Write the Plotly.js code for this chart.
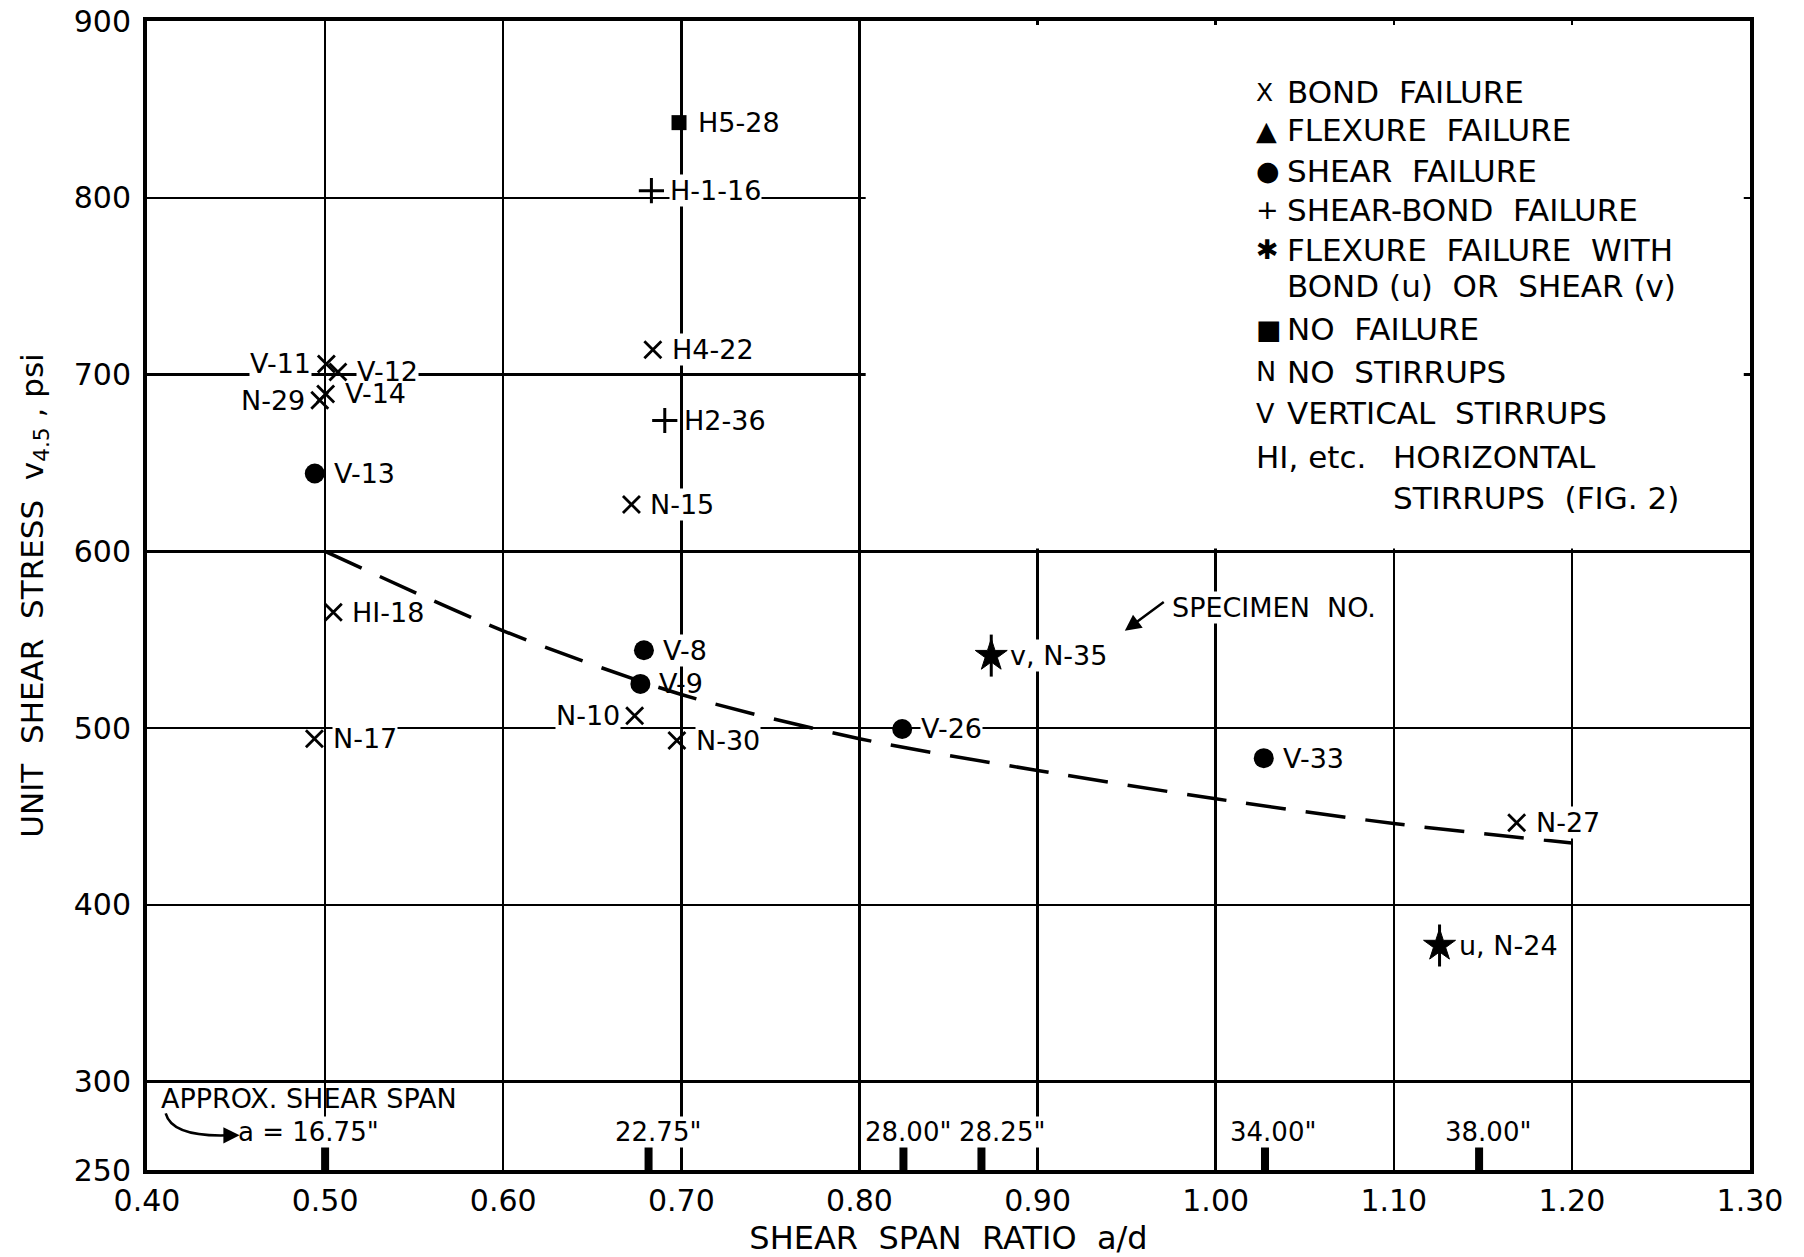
<!DOCTYPE html>
<html>
<head>
<meta charset="utf-8">
<script src="https://cdn.plot.ly/plotly-3.0.1.min.js"></script>
<style>html,body{margin:0;padding:0;background:#fff;}#chart{width:1804px;height:1257px;}</style>
</head>
<body>
<div id="chart"></div>
<script>
// ---------- DATA ----------
// Bond failure (X)
const bondX     = [0.5007, 0.5072, 0.5003, 0.497, 0.684, 0.672, 0.5046, 0.6738, 0.494, 0.6975, 1.169];
const bondY     = [706, 701.5, 689, 685.5, 714, 626.5, 565.5, 507, 494, 493, 446.5];
const bondNames = ["V-11", "V-12", "V-14", "N-29", "H4-22", "N-15", "HI-18", "N-10", "N-17", "N-30", "N-27"];
const bondSide  = ["l", "r", "r", "l", "r", "r", "r", "l", "r", "r", "r"];

// Shear failure (filled circle)
const shearX     = [0.4942, 0.679, 0.677, 0.824, 1.027];
const shearY     = [644, 544, 525, 499.5, 483];
const shearNames = ["V-13", "V-8", "V-9", "V-26", "V-33"];

// Shear-bond failure (+)
const sbX     = [0.6832, 0.6907];
const sbY     = [804, 674];
const sbNames = ["H-1-16", "H2-36"];

// Flexure failure with bond (u) or shear (v)
const flexX     = [0.874, 1.1257];
const flexY     = [541, 377];
const flexNames = ["v, N-35", "u, N-24"];

// No failure (square)
const noneX     = [0.6987];
const noneY     = [842.5];
const noneNames = ["H5-28"];

// Dashed trend curve
const curveX = [0.50, 0.60, 0.70, 0.80, 0.90, 1.00, 1.10, 1.20];
const curveY = [600, 555, 519, 494, 476, 460, 446, 435];

// Approx. shear span marks along the bottom
const spanX      = [0.50, 0.6816, 0.8247, 0.8685, 1.0277, 1.1479];
const spanLabels = ['a = 16.75"', '22.75"', '28.00"', '28.25"', '34.00"', '38.00"'];

// Axis ticks
const xTicks = [0.40, 0.50, 0.60, 0.70, 0.80, 0.90, 1.00, 1.10, 1.20, 1.30];
const xTickText = ["0.40", "0.50", "0.60", "0.70", "0.80", "0.90", "1.00", "1.10", "1.20", "1.30"];
const yTicks = [250, 300, 400, 500, 600, 700, 800, 900];

// Key text
const keySymbols = ["X", "▲", "●", "+", "✱", "", "■", "N", "V", "HI, etc.", ""];
const keyTexts   = ["BOND  FAILURE", "FLEXURE  FAILURE", "SHEAR  FAILURE", "SHEAR-BOND  FAILURE",
                    "FLEXURE  FAILURE  WITH", "BOND (u)  OR  SHEAR (v)", "NO  FAILURE", "NO  STIRRUPS",
                    "VERTICAL  STIRRUPS", "HORIZONTAL", "STIRRUPS  (FIG. 2)"];
const keyRowY    = [859.6, 838.2, 815.4, 793.3, 770.5, 750.3, 725.6, 701.5, 678.1, 653.4, 629.9];

// ---------- STYLE ----------
const FONT = "DejaVu Sans, Verdana, sans-serif";
const BLACK = "#000";
const spanBarTop = 263;
const spanLabelShift = [55, 9, 5, 21, 8, 9];   // px offsets of the span labels from their bars
const LABEL_SIZE = 27;
const plainLabels = ["V-14", "V-9"];           // labels drawn without a white backing

// ---------- TRACES ----------
const spanBarX = [], spanBarY = [];
spanX.forEach(x => { spanBarX.push(x, x, null); spanBarY.push(250, spanBarTop, null); });

const traces = [
  { x: curveX, y: curveY, type: "scatter", mode: "lines",
    line: { color: BLACK, width: 3.5, dash: "40px,20px", shape: "spline", smoothing: 0.8 },
    hoverinfo: "skip", showlegend: false },
  { x: spanBarX, y: spanBarY, type: "scatter", mode: "lines",
    line: { color: BLACK, width: 8 }, hoverinfo: "skip", showlegend: false },
  { x: bondX, y: bondY, type: "scatter", mode: "markers", name: "Bond failure",
    marker: { symbol: "x-thin-open", size: 17, color: BLACK, line: { color: BLACK, width: 2.8 } },
    showlegend: false },
  { x: shearX, y: shearY, type: "scatter", mode: "markers", name: "Shear failure",
    marker: { symbol: "circle", size: 20, color: BLACK }, showlegend: false },
  { x: sbX, y: sbY, type: "scatter", mode: "markers", name: "Shear-bond failure",
    marker: { symbol: "cross-thin-open", size: 18, color: BLACK, line: { color: BLACK, width: 3 } },
    showlegend: false },
  { x: flexX, y: flexY, type: "scatter", mode: "markers", hoverinfo: "skip",
    marker: { symbol: "line-ns-open", size: 30, color: BLACK, line: { color: BLACK, width: 3 } },
    showlegend: false },
  { x: flexX, y: flexY, type: "scatter", mode: "markers", name: "Flexure failure with bond/shear",
    marker: { symbol: "star", size: 24, color: BLACK, line: { color: BLACK, width: 1 } },
    showlegend: false },
  { x: noneX, y: noneY, type: "scatter", mode: "markers", name: "No failure",
    marker: { symbol: "square", size: 15, color: BLACK }, showlegend: false }
];

// ---------- ANNOTATIONS ----------
const annotations = [];
function addLabels(xs, ys, names, sides) {
  xs.forEach((x, i) => {
    const side = sides ? sides[i] : "r";
    const plain = plainLabels.indexOf(names[i]) >= 0;
    annotations.push({
      x: x, y: ys[i], xref: "x", yref: "y", text: names[i], showarrow: false,
      xanchor: side === "l" ? "right" : "left", yanchor: "middle",
      xshift: side === "l" ? -14 : 18,
      font: { family: FONT, size: LABEL_SIZE, color: BLACK },
      bgcolor: plain ? "rgba(0,0,0,0)" : "#fff", borderpad: 0
    });
  });
}
addLabels(bondX, bondY, bondNames, bondSide);
addLabels(shearX, shearY, shearNames);
addLabels(sbX, sbY, sbNames);
addLabels(flexX, flexY, flexNames);
addLabels(noneX, noneY, noneNames);

// span labels
spanX.forEach((x, i) => {
  const first = i === 0;
  annotations.push({
    x: x, y: 271.5, xref: "x", yref: "y", text: spanLabels[i], showarrow: false,
    xanchor: first ? "right" : "center", yanchor: "middle", xshift: spanLabelShift[i],
    font: { family: FONT, size: 26, color: BLACK }, bgcolor: "#fff", borderpad: 0
  });
});
annotations.push({
  x: 0.4065, y: 290.3, xref: "x", yref: "y", text: "APPROX. SHEAR SPAN", showarrow: false,
  xanchor: "left", yanchor: "middle", font: { family: FONT, size: 27, color: BLACK }
});
// arrowhead of the curved arrow
annotations.push({
  x: 0.452, y: 269.6, xref: "x", yref: "y", text: "", showarrow: true,
  ax: -16, ay: 0, arrowhead: 2, arrowsize: 1.3, arrowwidth: 2.5, arrowcolor: BLACK
});
// specimen no. text + pointer
annotations.push({
  x: 0.9749, y: 568, xref: "x", yref: "y", text: "SPECIMEN  NO.", showarrow: false,
  xanchor: "left", yanchor: "middle", font: { family: FONT, size: 27, color: BLACK },
  bgcolor: "#fff", borderpad: 0
});
annotations.push({
  x: 0.949, y: 555, xref: "x", yref: "y", axref: "x", ayref: "y", ax: 0.9717, ay: 572,
  text: "", showarrow: true, arrowhead: 2, arrowsize: 1.3, arrowwidth: 2.5, arrowcolor: BLACK
});

// key box
keyRowY.forEach((y, i) => {
  if (keySymbols[i]) {
    annotations.push({
      x: 1.0214, y: y, xref: "x", yref: "y", text: keySymbols[i], showarrow: false,
      xanchor: "left", yanchor: "middle",
      font: { family: FONT, size: keySymbols[i].length > 1 ? 31 : (keySymbols[i] === "X" ? 25 : 27), color: BLACK }
    });
  }
  const indent = (i === 9 || i === 10) ? 1.0985 : 1.0389;
  annotations.push({
    x: indent, y: y, xref: "x", yref: "y", text: keyTexts[i], showarrow: false,
    xanchor: "left", yanchor: "middle", font: { family: FONT, size: 31, color: BLACK }
  });
});

// ---------- SHAPES ----------
const shapes = [
  { type: "rect", xref: "x", yref: "y", x0: 0.8035, x1: 1.2965, y0: 601.6, y1: 897.8,
    fillcolor: "#fff", line: { width: 0 }, layer: "above" },
  { type: "path", xref: "x", yref: "y", path: "M 0.4105 282 Q 0.414 268.5 0.446 269.6",
    line: { color: BLACK, width: 2.5 }, layer: "above" }
];

const layout = {
  width: 1804, height: 1257,
  margin: { l: 147, r: 54, t: 21, b: 87, pad: 0 },
  paper_bgcolor: "#fff", plot_bgcolor: "#fff",
  showlegend: false,
  font: { family: FONT, color: BLACK },
  xaxis: {
    range: [0.40, 1.30], tickvals: xTicks, ticktext: xTickText,
    showgrid: true, gridcolor: BLACK, gridwidth: 2.5, zeroline: false,
    showline: true, mirror: true, linecolor: BLACK, linewidth: 4,
    ticks: "", ticklabelstandoff: 1,
    tickfont: { family: FONT, size: 30, color: BLACK },
    title: { text: "SHEAR  SPAN  RATIO  a/d", font: { family: FONT, size: 32, color: BLACK }, standoff: 16 }
  },
  yaxis: {
    range: [250, 900], tickvals: yTicks,
    showgrid: true, gridcolor: BLACK, gridwidth: 2.5, zeroline: false,
    showline: true, mirror: true, linecolor: BLACK, linewidth: 4,
    ticks: "", ticklabelstandoff: 6,
    tickfont: { family: FONT, size: 30, color: BLACK },
    title: { text: "UNIT  SHEAR  STRESS  v<sub>4.5</sub> , psi", font: { family: FONT, size: 31, color: BLACK }, standoff: 22 }
  },
  annotations: annotations,
  shapes: shapes
};

Plotly.newPlot("chart", traces, layout, { staticPlot: true, displayModeBar: false });
</script>
</body>
</html>
